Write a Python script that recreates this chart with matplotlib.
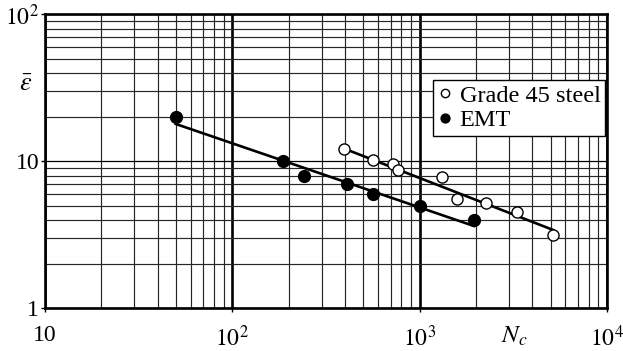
import matplotlib
matplotlib.use("Agg")
import matplotlib.pyplot as plt
from matplotlib.ticker import LogLocator, FixedLocator, FixedFormatter, NullFormatter

plt.rcParams['font.family'] = ['Liberation Serif', 'DejaVu Serif']
plt.rcParams['mathtext.fontset'] = 'stix'

# Cycles to failure and mean strain for the two materials
steel_N = [397, 562, 718, 770, 1322, 1589, 2262, 3297, 5167]
steel_eps = [12.1, 10.2, 9.6, 8.8, 7.9, 5.6, 5.25, 4.5, 3.15]
emt_N = [50, 186, 243, 408, 562, 1000, 1940]
emt_eps = [20.0, 10.0, 8.0, 7.0, 6.0, 5.0, 4.0]

# Power-law trend lines (end points)
steel_fit_N = [395, 5165]
steel_fit_eps = [12.25, 3.42]
emt_fit_N = [50, 1950]
emt_fit_eps = [18.0, 3.64]

x_ticks = [10, 100, 1000, 10000]
x_labels = ['10', '$10^2$', '$10^3$', '$10^4$']
y_ticks = [1, 10, 100]
y_labels = ['1', '10', '$10^2$']

fig = plt.figure(figsize=(6.23, 3.51), dpi=100)
ax = fig.add_axes([0.0719, 0.1211, 0.9024, 0.8376])
ax.set_xscale('log')
ax.set_yscale('log')
ax.set_xlim(10, 10000)
ax.set_ylim(1, 100)

ax.xaxis.set_major_locator(FixedLocator(x_ticks))
ax.xaxis.set_major_formatter(FixedFormatter(x_labels))
ax.yaxis.set_major_locator(FixedLocator(y_ticks))
ax.yaxis.set_major_formatter(FixedFormatter(y_labels))
ax.xaxis.set_minor_locator(LogLocator(base=10, subs=range(2, 10)))
ax.yaxis.set_minor_locator(LogLocator(base=10, subs=range(2, 10)))
ax.xaxis.set_minor_formatter(NullFormatter())
ax.yaxis.set_minor_formatter(NullFormatter())

ax.tick_params(which='major', direction='out', length=3, width=1.0,
               labelsize=17, pad=9)
ax.tick_params(axis='y', which='major', pad=1)
ax.tick_params(which='minor', length=0)

ax.set_axisbelow(True)
ax.xaxis.grid(True, which='major', color='black', lw=1.9)
ax.xaxis.grid(True, which='minor', color='0.15', lw=0.85)
ax.yaxis.grid(True, which='major', color='black', lw=0.9)
ax.yaxis.grid(True, which='minor', color='0.15', lw=0.85)

for sp in ax.spines.values():
    sp.set_linewidth(1.9)
    sp.set_zorder(5)

ax.plot(steel_fit_N, steel_fit_eps, color='black', lw=1.9, zorder=3)
ax.plot(emt_fit_N, emt_fit_eps, color='black', lw=1.9, zorder=3)

ax.plot(steel_N, steel_eps, linestyle='none', marker='o', markersize=8,
        markerfacecolor='white', markeredgecolor='black', markeredgewidth=1.0,
        zorder=4, label='Grade 45 steel')
ax.plot(emt_N, emt_eps, linestyle='none', marker='o', markersize=8.5,
        markerfacecolor='black', markeredgecolor='black',
        zorder=4, label='EMT')

leg = ax.legend(loc='upper right', bbox_to_anchor=(0.997, 0.777),
                fontsize=17.5, frameon=True, fancybox=False, framealpha=1,
                edgecolor='black', handlelength=0.6, handletextpad=0.3,
                borderpad=0.2, labelspacing=0.1, borderaxespad=0,
                markerscale=0.75)
leg.get_frame().set_linewidth(1.0)
leg.set_zorder(6)

ax.annotate('$N_c$', xy=(3200, 0), xycoords=('data', 'axes fraction'),
            xytext=(0, -12), textcoords='offset points',
            ha='center', va='top', fontsize=18)
ax.text(-0.035, 0.76, r'$\bar{\varepsilon}$', transform=ax.transAxes,
        ha='center', va='center', fontsize=19)

fig.savefig('out.png', dpi=100)
